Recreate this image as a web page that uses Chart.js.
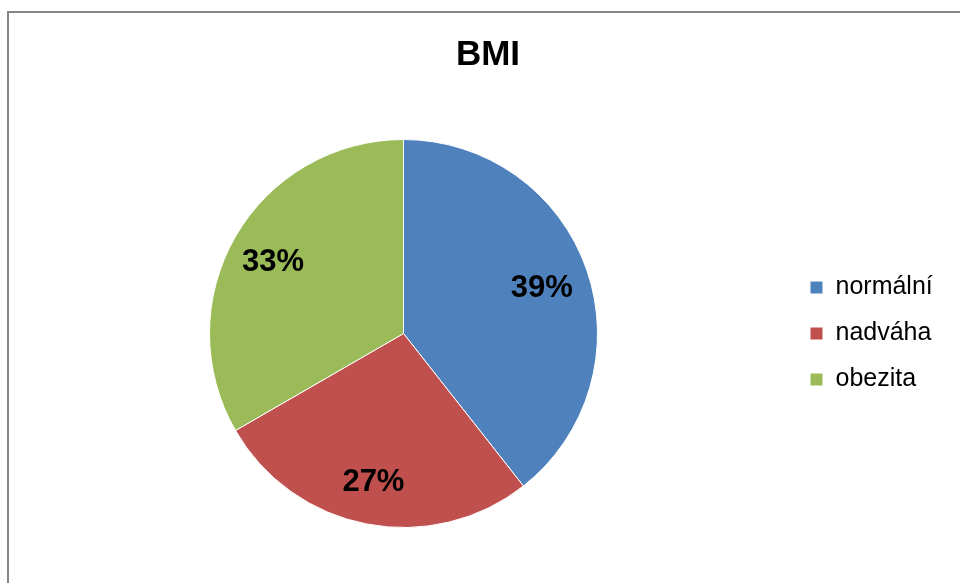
<!DOCTYPE html>
<html>
<head>
<meta charset="utf-8">
<script src="https://cdn.jsdelivr.net/npm/chart.js@4"></script>
<style>
  html, body { margin: 0; padding: 0; background: #fff; overflow: hidden; }
  #frame {
    position: absolute; left: 7px; top: 11px;
    width: 1000px; height: 1000px;
    border: 2px solid #868686;
  }
  #wrap { position: absolute; left: 0; top: 0; width: 960px; height: 583px; }
</style>
</head>
<body>
<div id="frame"></div>
<div id="wrap"><canvas id="bmiChart"></canvas></div>
<script>
// data (counts giving 39 / 27 / 33 %)
const categories = ["normální", "nadváha", "obezita"];
const counts = [13, 9, 11];
const sliceColors = ["#4F81BD", "#C0504D", "#9BBB59"];
const chartTitle = "BMI";

const fontFamily = "'Liberation Sans', Arial, sans-serif";

// percent labels inside the slices
const percentLabels = {
  id: "percentLabels",
  afterDatasetsDraw(chart) {
    const ctx = chart.ctx;
    const meta = chart.getDatasetMeta(0);
    const total = counts.reduce((a, b) => a + b, 0);
    ctx.save();
    ctx.font = "bold 31px " + fontFamily;
    ctx.fillStyle = "#000";
    ctx.textAlign = "center";
    ctx.textBaseline = "middle";
    meta.data.forEach((arc, i) => {
      const p = arc.getProps(["x", "y", "startAngle", "endAngle", "outerRadius"], true);
      const mid = (p.startAngle + p.endAngle) / 2;
      const r = p.outerRadius * 0.765;
      const txt = Math.round((counts[i] / total) * 100) + "%";
      ctx.fillText(txt, p.x + Math.cos(mid) * r - 2, p.y + Math.sin(mid) * r + 3);
    });
    ctx.restore();
  },
};

// give the legend a fixed width so the pie sits left of the title centre
const legendWidth = {
  id: "legendWidth",
  beforeInit(chart) {
    const fit = chart.legend.fit;
    chart.legend.fit = function () {
      fit.bind(chart.legend)();
      this.width = 169;
    };
  },
};

new Chart(document.getElementById("bmiChart"), {
  type: "pie",
  data: {
    labels: categories,
    datasets: [{
      data: counts,
      backgroundColor: sliceColors,
      borderColor: "#fff",
      borderWidth: 1,
    }],
  },
  options: {
    responsive: true,
    maintainAspectRatio: false,
    animation: false,
    layout: { padding: { left: 18, right: 2, top: 0, bottom: 55 } },
    plugins: {
      title: {
        display: true,
        text: chartTitle,
        color: "#000",
        font: { family: fontFamily, size: 35, weight: "bold" },
        padding: { top: 34, bottom: 63 },
      },
      legend: {
        position: "right",
        fullSize: false,
        labels: {
          color: "#000",
          font: { family: fontFamily, size: 25 },
          boxWidth: 13,
          boxHeight: 13,
          padding: 21,
        },
      },
      tooltip: { enabled: false },
    },
  },
  plugins: [percentLabels, legendWidth],
});
</script>
</body>
</html>
